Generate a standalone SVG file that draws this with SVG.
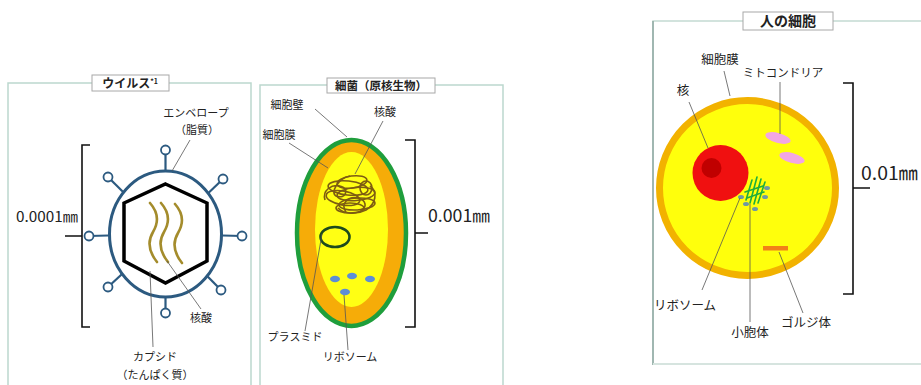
<svg xmlns="http://www.w3.org/2000/svg" width="921" height="385" viewBox="0 0 921 385">
  <style>
    .frame { fill: none; stroke: #bcd8ce; stroke-width: 1.5; }
    .tbox { fill: #ffffff; stroke: #a8a8a8; stroke-width: 1; }
    .title { font-family: "Noto Sans CJK JP", sans-serif; font-weight: bold; fill: #222; text-anchor: middle; }
    .lbl { font-family: "Noto Sans CJK JP", sans-serif; fill: #222; text-anchor: middle; }
    .size { font-family: "Noto Sans CJK JP", sans-serif; fill: #222; }
    .lead { fill: none; stroke: #555; stroke-width: 0.8; }
    .brk { fill: none; stroke: #111; stroke-width: 1.6; }
  </style>

  <rect width="921" height="385" fill="#ffffff"/>

  <!-- panel frames -->
  <g id="frames">
    <path class="frame" d="M8,400 V83 H251 V400"/>
    <path class="frame" d="M260,400 V85 H503 V400"/>
    <path d="M653,365 V21 H930" fill="none" stroke="#c4dad2" stroke-width="1.5"/>
    <path d="M653,21 V365" fill="none" stroke="#8fa8a2" stroke-width="1.5"/>
    <path d="M653,364 H930" fill="none" stroke="#d6e4df" stroke-width="2"/>
  </g>

  <!-- virus -->
  <g id="virus">
    <rect class="tbox" x="92" y="75" width="77" height="16"/>
    <text class="title" x="130" y="88" font-size="12">ウイルス<tspan font-size="7" dy="-4">*1</tspan></text>
    <g stroke="#2c5a80" stroke-width="2.2">
      <line x1="165.5" y1="234" x2="165.5" y2="150"/>
      <line x1="165.5" y1="234" x2="165.5" y2="313"/>
      <line x1="165.5" y1="234" x2="89" y2="236"/>
      <line x1="165.5" y1="234" x2="242" y2="236"/>
      <line x1="165.5" y1="234" x2="108" y2="177"/>
      <line x1="165.5" y1="234" x2="223" y2="179"/>
      <line x1="165.5" y1="234" x2="108" y2="287"/>
      <line x1="165.5" y1="234" x2="221" y2="290"/>
    </g>
    <ellipse cx="165.5" cy="234" rx="56" ry="63" fill="#ffffff" stroke="#2c5a80" stroke-width="3"/>
    <g fill="#ffffff" stroke="#2c5a80" stroke-width="1.8">
      <circle cx="165.5" cy="150" r="4.5"/>
      <circle cx="165.5" cy="313" r="4.5"/>
      <circle cx="89" cy="236" r="4.5"/>
      <circle cx="242" cy="236" r="4.5"/>
      <circle cx="108" cy="177" r="4.5"/>
      <circle cx="223" cy="179" r="4.5"/>
      <circle cx="108" cy="287" r="4.5"/>
      <circle cx="221" cy="290" r="4.5"/>
    </g>
    <polygon points="165.5,184 207,203 207,261 165.5,283 124,261 124,203" fill="none" stroke="#000" stroke-width="3.5" stroke-linejoin="miter"/>
    <g fill="none" stroke="#a48c2c" stroke-width="2.6" stroke-linecap="round">
      <path d="M150,203 C158,212 159,222 153,232 C147,242 149,252 157,262"/>
      <path d="M161,203 C169,212 170,222 164,232 C158,242 160,252 168,262"/>
      <path d="M175,204 C183,213 184,223 178,233 C172,243 174,253 182,263"/>
    </g>
    <!-- size bracket -->
    <path class="brk" d="M90,145 H82 V327 H90 M82,236 H65"/>
    <text class="size" x="16" y="222" font-size="14.5" textLength="62" lengthAdjust="spacingAndGlyphs">0.0001㎜</text>
    <!-- labels -->
    <text class="lbl" x="196" y="117" font-size="11">エンベロープ</text>
    <text class="lbl" x="197" y="134" font-size="11">（脂質）</text>
    <path class="lead" d="M190,140 L172,171"/>
    <text class="lbl" x="201" y="322" font-size="11">核酸</text>
    <path class="lead" d="M201,309 L167,261"/>
    <path class="lead" d="M153,347 L150,271"/>
    <text class="lbl" x="155" y="361" font-size="11">カプシド</text>
    <text class="lbl" x="155" y="379" font-size="11">（たんぱく質）</text>
  </g>

  <!-- bacterium -->
  <g id="bacterium">
    <rect class="tbox" x="327" y="78" width="108" height="15"/>
    <text class="title" x="381" y="90" font-size="11.5">細菌（原核生物）</text>
    <ellipse cx="351.5" cy="233" rx="54.5" ry="93" fill="#f6ac08" stroke="#1f9e3c" stroke-width="4.5"/>
    <ellipse cx="351.5" cy="229.5" rx="36.5" ry="77.5" fill="#ffff14"/>
    <!-- nucleoid -->
    <g fill="none" stroke="#7d5c12" stroke-width="1.6">
      <ellipse cx="352" cy="182" rx="15" ry="6" transform="rotate(-8 352 182)"/>
      <ellipse cx="348" cy="188" rx="20" ry="7" transform="rotate(6 348 188)"/>
      <ellipse cx="356" cy="194" rx="19" ry="6.5" transform="rotate(-5 356 194)"/>
      <ellipse cx="343" cy="198" rx="17" ry="7" transform="rotate(10 343 198)"/>
      <ellipse cx="357" cy="204" rx="18" ry="6" transform="rotate(-3 357 204)"/>
      <ellipse cx="350" cy="208" rx="14" ry="5"/>
      <path d="M325,200 C322,190 332,184 340,186 C350,188 346,200 336,196 C330,193 338,178 350,176"/>
      <path d="M370,186 C378,192 376,204 366,210 C356,215 344,214 338,208"/>
      <path d="M346,212 C340,204 348,196 358,198 C366,200 368,208 360,210"/>
      <ellipse cx="366" cy="188" rx="6" ry="7"/>
    </g>
    <ellipse cx="335" cy="237" rx="14.5" ry="10" fill="none" stroke="#1d4a1d" stroke-width="2.6"/>
    <g fill="#5c8ed6">
      <ellipse cx="335" cy="279" rx="5" ry="3.2"/>
      <ellipse cx="352" cy="276" rx="5" ry="3.2"/>
      <ellipse cx="370" cy="279" rx="5" ry="3.2"/>
      <ellipse cx="345" cy="292" rx="5" ry="3.2"/>
    </g>
    <path class="brk" d="M405,140 H415 V327 H405 M415,233 H428"/>
    <text class="size" x="428" y="222" font-size="17" textLength="62" lengthAdjust="spacingAndGlyphs">0.001㎜</text>
    <text class="lbl" x="287" y="109" font-size="11">細胞壁</text>
    <path class="lead" d="M315,109 L347,137"/>
    <text class="lbl" x="279" y="139" font-size="11">細胞膜</text>
    <path class="lead" d="M289,143 L328,168"/>
    <text class="lbl" x="385" y="116" font-size="11">核酸</text>
    <path class="lead" d="M383,121 L355,174"/>
    <text class="lbl" x="295" y="341" font-size="11">プラスミド</text>
    <path class="lead" d="M305,331 L322,234"/>
    <text class="lbl" x="350" y="361" font-size="11">リボソーム</text>
    <path class="lead" d="M348,350 L344,295"/>
  </g>

  <!-- human cell -->
  <g id="human-cell">
    <rect class="tbox" x="743" y="12" width="90" height="18"/>
    <text class="title" x="788" y="26" font-size="14">人の細胞</text>
    <ellipse cx="747.5" cy="188" rx="88" ry="87.5" fill="#ffff0c" stroke="#f2b200" stroke-width="7"/>
    <circle cx="720.5" cy="173" r="28" fill="#f01010"/>
    <circle cx="711.5" cy="168" r="10" fill="#c00000"/>
    <ellipse cx="778" cy="138" rx="13" ry="5" fill="#f2a6e4" transform="rotate(15 778 138)"/>
    <ellipse cx="792" cy="158" rx="13" ry="5" fill="#f2a6e4" transform="rotate(15 792 158)"/>
    <g stroke="#1fae3c" stroke-width="1.6" stroke-linecap="round">
      <line x1="746" y1="200" x2="752" y2="180"/>
      <line x1="750" y1="203" x2="757" y2="177"/>
      <line x1="754" y1="204" x2="761" y2="179"/>
      <line x1="758" y1="203" x2="765" y2="182"/>
      <line x1="745" y1="192" x2="763" y2="186"/>
      <line x1="747" y1="198" x2="764" y2="192"/>
    </g>
    <g fill="#6f98a4">
      <ellipse cx="767" cy="188" rx="3" ry="2"/>
      <ellipse cx="765" cy="197" rx="3" ry="2"/>
      <ellipse cx="741" cy="197" rx="3" ry="2"/>
      <ellipse cx="746" cy="204" rx="3" ry="2"/>
      <ellipse cx="755" cy="209" rx="3" ry="2"/>
    </g>
    <rect x="763" y="246" width="25" height="4.5" fill="#f28018"/>
    <path class="brk" d="M843,83 H853 V294 H843 M853,188 H870"/>
    <text class="size" x="861" y="180" font-size="18" textLength="57" lengthAdjust="spacingAndGlyphs">0.01㎜</text>
    <text class="lbl" x="720" y="64" font-size="12.5">細胞膜</text>
    <path class="lead" d="M724,71 L730,96"/>
    <text class="lbl" x="783" y="77" font-size="11.5">ミトコンドリア</text>
    <path class="lead" d="M780,82 L780,134"/>
    <text class="lbl" x="683" y="95" font-size="12.5">核</text>
    <path class="lead" d="M689,102 L708,148"/>
    <text class="lbl" x="685" y="310" font-size="12.5">リボソーム</text>
    <path class="lead" d="M702,290 L740,198"/>
    <text class="lbl" x="750" y="337" font-size="12.5">小胞体</text>
    <path class="lead" d="M750,322 L750,204"/>
    <text class="lbl" x="806" y="327" font-size="12.5">ゴルジ体</text>
    <path class="lead" d="M803,313 L779,252"/>
  </g>
</svg>
